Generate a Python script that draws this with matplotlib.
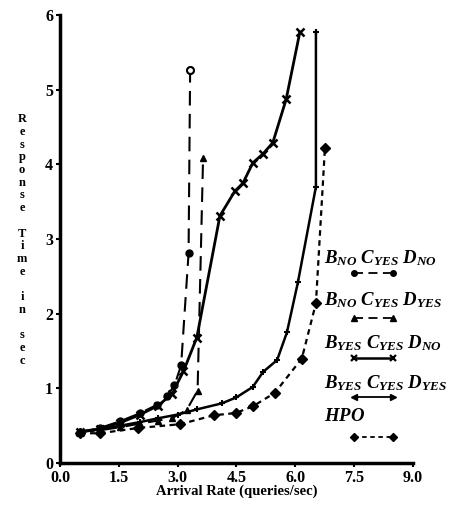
import matplotlib
matplotlib.use('Agg')
import matplotlib.pyplot as plt

plt.rcParams['font.family'] = 'Liberation Serif'
plt.rcParams['font.weight'] = 'bold'
plt.rcParams['mathtext.fontset'] = 'custom'
plt.rcParams['mathtext.it'] = 'Liberation Serif:italic:bold'
plt.rcParams['mathtext.rm'] = 'Liberation Serif:italic:bold'

# B_NO C_YES D_NO  (circles, long dashes)
x1 = [0.51, 1.02, 1.53, 2.05, 2.47, 2.73, 2.92, 3.09, 3.28, 3.32]
y1 = [0.41, 0.47, 0.56, 0.67, 0.78, 0.90, 1.04, 1.31, 2.81, 5.26]
# B_NO C_YES D_YES  (triangles, dashes)
x2 = [0.51, 1.02, 1.53, 2.05, 2.50, 2.85, 3.23, 3.51, 3.65]
y2 = [0.42, 0.44, 0.48, 0.53, 0.57, 0.60, 0.71, 0.97, 4.08]
# B_YES C_YES D_NO  (crosses, solid)
x3 = [0.51, 1.02, 1.53, 2.05, 2.50, 2.85, 3.15, 3.49, 4.08, 4.46, 4.67,
      4.92, 5.18, 5.43, 5.77, 6.12]
y3 = [0.42, 0.46, 0.54, 0.65, 0.77, 0.92, 1.23, 1.68, 3.31, 3.64, 3.75,
      4.02, 4.14, 4.29, 4.87, 5.77]
# B_YES C_YES D_YES  (ticks, solid)
x4 = [0.51, 1.02, 1.53, 2.05, 2.50, 3.00, 3.50, 4.13, 4.50, 4.92, 5.18,
      5.54, 5.79, 6.07, 6.53, 6.53]
y4 = [0.42, 0.45, 0.50, 0.55, 0.60, 0.65, 0.72, 0.80, 0.88, 1.02, 1.22,
      1.38, 1.75, 2.42, 3.70, 5.77]
# HPO  (diamonds, short dashes)
x5 = [0.51, 1.02, 1.99, 3.06, 3.92, 4.48, 4.92, 5.48, 6.17, 6.53, 6.76]
y5 = [0.40, 0.40, 0.47, 0.52, 0.64, 0.67, 0.76, 0.94, 1.40, 2.14, 4.22]

labels = [r'$B_{NO}\ C_{YES}\ D_{NO}$', r'$B_{NO}\ C_{YES}\ D_{YES}$',
          r'$B_{YES}\ C_{YES}\ D_{NO}$', r'$B_{YES}\ C_{YES}\ D_{YES}$',
          r'$HPO$']

fig = plt.figure(figsize=(4.69, 5.14), dpi=100)
ax = fig.add_axes([0.128, 0.099, 0.752, 0.872])

k = 'black'
ax.plot(x1, y1, color=k, lw=1.5, ls=(0, (7, 4)), marker='o', ms=5)
ax.plot(x1[-1], y1[-1], 'o', ms=5, mfc='white', mec=k, mew=1.5)
ax.plot(x2, y2, color=k, lw=1.5, ls=(0, (7, 4)), marker='^', ms=5)
ax.plot(x3, y3, color=k, lw=2.0, marker='x', ms=6, mew=1.8)
ax.plot(x4, y4, color=k, lw=1.8, marker='+', ms=5, mew=1.5)
ax.plot(x5, y5, color=k, lw=1.6, ls=(0, (2.5, 2)), marker='D', ms=5)

# legend drawn by hand at the right of the curves
styles = [dict(ls=(0, (5, 3)), marker='o', ms=4, lw=1.3),
          dict(ls=(0, (5, 3)), marker='^', ms=4, lw=1.3),
          dict(ls='-', marker='x', ms=5, lw=1.8, mew=1.6),
          dict(ls='-', marker=None, lw=1.3),
          dict(ls=(0, (2.5, 2)), marker='D', ms=4, lw=1.3)]
text_y = [2.74, 2.18, 1.61, 1.07, 0.62]
line_y = [2.54, 1.94, 1.41, 0.88, 0.35]
for lab, st, ty, ly in zip(labels, styles, text_y, line_y):
    ax.text(6.73, ty, lab, fontsize=13.5, va='center', ha='left')
    ax.plot([7.5, 8.5], [ly, ly], color=k, **st)
ax.plot(7.5, line_y[3], '<', color=k, ms=4)
ax.plot(8.5, line_y[3], '>', color=k, ms=4)

ax.set_xlim(0, 9)
ax.set_ylim(0, 6)
ax.set_xticks([0, 1.5, 3.0, 4.5, 6.0, 7.5, 9.0])
ax.set_xticklabels(['0.0', '1.5', '3.0', '4.5', '6.0', '7.5', '9.0'])
ax.set_yticks(range(7))
for s in ['top', 'right']:
    ax.spines[s].set_visible(False)
for s in ['left', 'bottom']:
    ax.spines[s].set_linewidth(2.5)
ax.tick_params(direction='out', length=3, width=1.5, labelsize=11.5, pad=2)
ax.set_xlabel('Arrival Rate (queries/sec)', fontsize=10.5, fontweight='bold',
              labelpad=-1)

fig.text(0.047, 0.78, '\n'.join('Response Time in sec'), fontsize=9,
         fontweight='bold', ha='center', va='top', linespacing=1.08)

plt.savefig('out.png')
